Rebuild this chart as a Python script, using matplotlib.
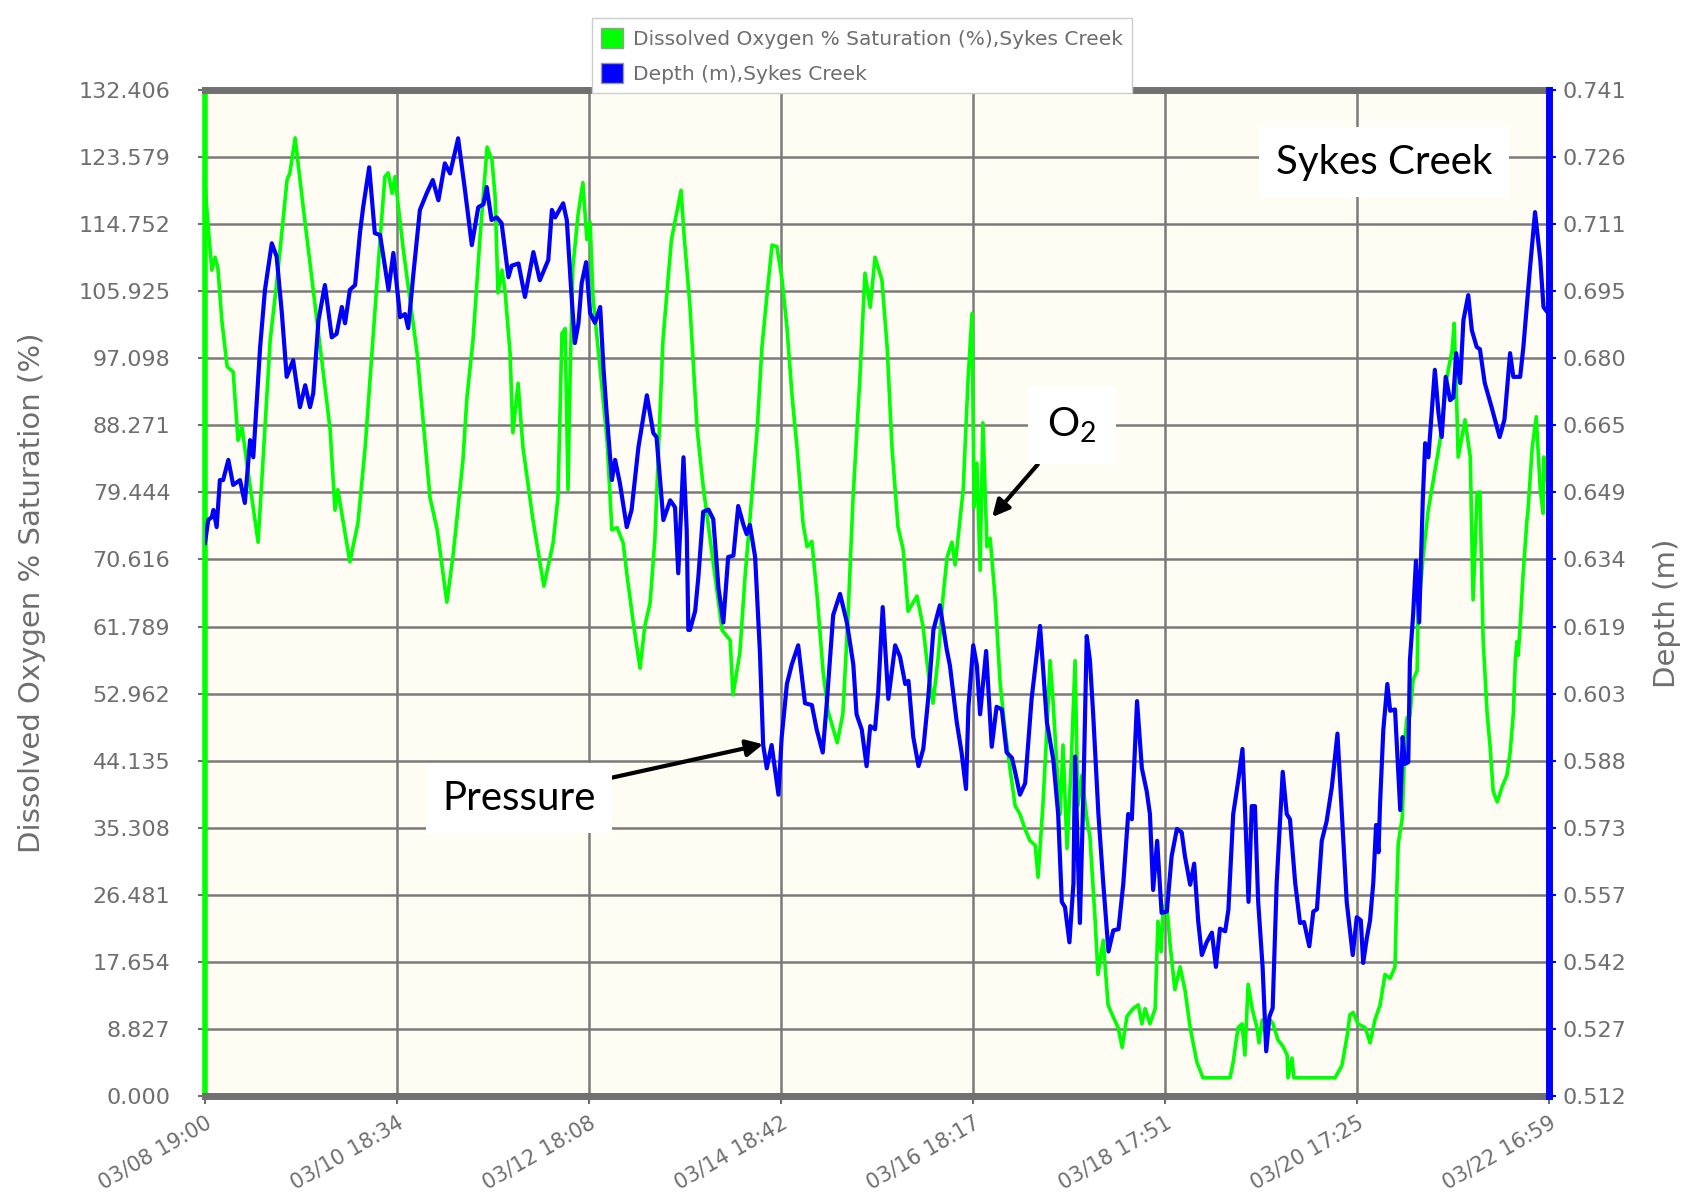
import matplotlib
matplotlib.use("Agg")
from matplotlib import pyplot as plt
from matplotlib.patches import Patch
import numpy as np

plt.rcParams["mathtext.fontset"] = "custom"
plt.rcParams["mathtext.rm"] = "Lato"

# hours since 03/08 19:00
o2_hours = [0, 0.7, 1.7, 2.5, 3.2, 4.2, 5.5, 7.0, 8.2, 9.2, 10.4, 13.2, 16.2, 17.9, 19.4,
            20.4, 21.1, 22.4, 24.4, 26.8, 29.1, 31.1, 32.3, 33.0, 36.0, 38.0, 39.8, 41.0,
            42.2, 43.5, 44.7, 45.5, 46.5, 47.2, 49.2, 52.7, 55.9, 57.7, 60.1, 61.6, 62.9,
            64.1, 65.1, 66.6, 68.3, 70.1, 71.3, 72.1, 72.8, 73.8, 74.6, 75.8, 76.5, 77.8,
            79.0, 81.5, 84.2, 86.5, 87.7, 88.7, 89.5, 90.2, 90.7, 91.4, 92.7, 93.9, 94.9,
            95.7, 96.4, 98.2, 99.9, 101.1, 102.4, 103.9, 104.9, 106.4, 108.1, 109.3, 110.6,
            111.8, 113.8, 115.9, 118.3, 119.0, 120.5, 122.3, 123.8, 128.5, 130.5, 131.2,
            132.9, 134.2, 135.4, 137.2, 138.4, 139.7, 140.9, 142.1, 143.4, 144.6, 145.9,
            147.1, 148.6, 149.6, 150.8, 152.1, 153.6, 154.8, 157.1, 158.5, 159.8, 161.0,
            162.7, 164.0, 165.3, 166.5, 168.2, 169.5, 170.7, 172.2, 173.5, 174.7, 176.9,
            178.4, 179.7, 180.9, 182.2, 183.4, 184.4, 185.6, 186.4, 187.1, 188.4, 189.6,
            190.6, 191.1, 191.8, 192.6, 193.3, 194.3, 195.1, 196.3, 197.6, 198.8, 200.0,
            201.3, 202.5, 203.8, 205.0, 206.3, 207.0, 208.2, 209.2, 210.0, 210.7, 211.7,
            212.5, 213.2, 214.2, 215.2, 216.2, 216.9, 217.9, 219.2, 219.9, 221.2, 221.9,
            223.2, 224.4, 225.6, 226.9, 227.9, 229.1, 230.6, 231.9, 232.8, 233.6, 234.8,
            236.1, 236.8, 237.6, 238.1, 239.1, 239.8, 241.0, 242.3, 243.5, 244.8, 246.5,
            248.0, 254.7, 255.5, 256.7, 257.7, 258.4, 259.2, 260.2, 261.4, 261.9, 262.7,
            263.4, 264.7, 265.4, 266.6, 267.9, 268.9, 269.1, 270.1, 270.6, 280.8, 282.5,
            283.8, 284.5, 285.3, 286.5, 288.3, 289.5, 290.7, 292.0, 293.2, 294.5, 295.7,
            296.2, 296.5, 297.5, 298.2, 298.7, 299.4, 300.2, 301.2, 301.4, 302.7, 303.9,
            306.9, 308.6, 309.9, 310.4, 311.1, 311.4, 313.1, 314.4, 315.1, 316.1, 316.8,
            317.6, 318.6, 319.3, 320.1, 321.1, 322.3, 323.5, 324.3, 325.1, 325.6, 326.0,
            326.3, 326.8, 327.5, 328.5, 328.7, 329.8, 330.8, 331.8, 332.5, 332.7, 333.5]
o2_sat = [120, 115, 108.7, 110.4, 109, 102, 96, 95.3, 86.3, 88, 83.3, 72.9, 99.5, 107.4, 115.3,
          120.6, 121.5, 126.1, 117, 106.5, 96.5, 87.7, 77.1, 79.8, 70.3, 75.4, 85.4, 94.2,
          103, 112.7, 121, 121.5, 118.8, 121, 111.7, 97.8, 78.8, 74.5, 65, 71, 77.5,
          83.7, 92, 99.5, 112.7, 124.9, 123.2, 118.3, 105.7, 108.7, 105.7, 97.8, 87.3, 93.8,
          85.4, 75.8, 67.1, 72.8, 78.8, 100.4, 101, 79.8, 94.2, 109, 116, 120.2, 112.7,
          115, 105.2, 95.6, 86.3, 74.5, 74.8, 72.8, 68.4, 62.4, 56.3, 61.9, 64.9,
          73.4, 99.5, 112.7, 119.2, 113.6, 104, 87.7, 80.2, 61.3, 60, 52.8,
          58.3, 68.4, 75.9, 87.7, 98.6, 105.7, 112, 111.8, 107.4, 101.2, 92,
          85.4, 75.4, 72.3, 73, 65.8, 55.8, 50.7, 46.5, 50.3, 63.3, 78.4,
          94.2, 108.3, 103.8, 110.4, 107.4, 98.6, 85.4, 74.9, 71.9, 63.8, 65.8,
          61.9, 55.8, 51.7, 57.8, 65.8, 70.9, 72.9, 69.9, 73.4, 79.8, 94.2,
          103, 77.5, 83.3, 69.2, 88.6, 72.3, 73.4, 65.8, 54.2, 48.2, 43.2,
          38.2, 37.1, 35.1, 33.6, 33, 28.8, 38.2, 48.2, 57.3, 52.2, 43.2,
          37.1, 46.2, 32.6, 43.2, 57.3, 38.2, 42.2, 36.2, 34.1, 23, 16,
          20.5, 12, 10.5, 9, 6.4, 10.5, 11.5, 12, 9.5, 11.5, 9.5,
          11.5, 23, 19, 25, 24.5, 20, 14, 17, 14, 9, 4.4,
          2.4, 2.4, 4.5, 9, 9.5, 5.4, 14.7, 11.5, 9, 7, 10,
          8.5, 10, 9.5, 7.4, 6.5, 5.4, 2.4, 5, 2.4, 2.4, 4,
          7.9, 10.7, 11, 9.5, 9, 7, 10, 12, 16, 15.5, 17,
          28, 33.2, 36.6, 47.3, 49.8, 50, 54.8, 56, 63.3, 71, 76.9,
          86.3, 94.6, 98.2, 101.7, 89.9, 84.1, 89, 84.1, 65.3, 79.4, 79.5,
          60, 50.3, 46.2, 40.1, 38.7, 40.7, 42.2, 45.2, 50.3, 57.3, 59.8,
          58, 61.9, 68.4, 75.9, 76.7, 85.4, 89.4, 79.8, 76.7, 84.1, 81]

depth_hours = [0, 0.8, 1.7, 2.1, 2.9, 3.7, 4.5, 5.8, 7.0, 8.7, 9.9, 11.2, 12.0, 13.7, 14.9,
               16.6, 17.8, 19.1, 20.3, 21.9, 23.6, 24.9, 26.1, 26.9, 28.2, 29.8, 31.5, 32.7,
               34.0, 34.8, 36.0, 37.3, 38.5, 39.3, 40.8, 42.2, 43.5, 45.6, 46.8, 48.5, 49.7,
               50.5, 51.8, 53.4, 55.1, 56.6, 58.0, 59.6, 60.9, 62.9, 64.6, 66.3, 67.9, 69.2,
               70.0, 71.2, 72.5, 73.7, 75.4, 76.2, 77.9, 79.5, 81.6, 83.2, 85.3, 86.2, 87.0,
               89.0, 89.9, 91.1, 91.9, 92.8, 93.6, 94.7, 95.7, 96.9, 98.2, 99.0, 99.8, 101.1,
               101.9, 103.1, 104.8, 106.0, 107.7, 109.8, 111.4, 112.2, 113.9, 115.6, 116.8,
               117.6, 118.9, 119.7, 120.1, 120.5, 121.8, 122.6, 123.8, 125.1, 126.3, 127.6,
               128.8, 130.0, 131.3, 132.5, 133.8, 134.6, 135.4, 136.7, 137.9, 138.7, 139.6,
               140.8, 142.5, 143.3, 144.6, 145.8, 147.4, 149.1, 150.8, 152.0, 153.5, 154.5,
               156.1, 157.8, 159.5, 161.1, 161.9, 163.2, 164.4, 165.3, 166.5, 167.3, 168.4,
               169.8, 171.5, 172.7, 174.0, 174.8, 176.0, 177.3, 178.5, 179.7, 181.0, 182.6,
               184.3, 185.1, 186.8, 188.0, 189.1, 189.7, 190.9, 191.8, 192.6, 194.1, 195.5,
               196.7, 198.0, 199.2, 200.5, 201.3, 202.5, 203.8, 205.4, 207.5, 209.2, 210.8,
               212.0, 212.9, 213.7, 214.8, 215.8, 216.2, 216.8, 217.4, 218.3, 219.1, 219.9,
               220.7, 222.0, 223.2, 224.5, 225.7, 227.0, 228.2, 229.4, 230.3, 231.6, 232.8,
               234.0, 234.8, 235.6, 236.6, 237.7, 239.0, 240.2, 241.5, 242.7, 243.5, 244.8,
               245.8, 246.8, 247.7, 248.9, 250.2, 251.2, 252.2, 253.5, 254.3, 255.5, 256.8,
               257.8, 258.4, 259.3, 260.1, 260.9, 261.7, 262.8, 263.7, 264.5, 265.3, 266.3,
               267.8, 268.8, 269.6, 270.9, 272.1, 273.1, 274.4, 275.4, 276.3, 277.5, 278.7,
               280.0, 281.4, 282.5, 283.7, 285.2, 286.2, 287.2, 287.8, 288.7, 289.5, 290.3,
               291.0, 291.6, 292.0, 292.8, 293.8, 294.5, 295.7, 297.0, 297.6, 298.2, 299.0,
               299.4, 300.2, 300.9, 301.7, 302.6, 303.2, 304.0, 304.8, 305.6, 306.5, 307.3,
               308.3, 309.4, 310.2, 310.9, 311.9, 312.7, 313.9, 314.8, 316.0, 316.8, 318.0,
               319.7, 321.7, 322.9, 324.3, 325.1, 326.8, 327.6, 329.2, 330.5, 331.8, 332.6,
               333.5]
depth_m = [0.6379, 0.6431, 0.6438, 0.6454, 0.6415, 0.6522, 0.6522, 0.6568, 0.6511, 0.6522,
           0.6470, 0.6613, 0.6574, 0.6825, 0.6955, 0.7061, 0.7031, 0.6902, 0.6757, 0.6795,
           0.6688, 0.6738, 0.6688, 0.6720, 0.6886, 0.6966, 0.6847, 0.6855, 0.6916, 0.6879,
           0.6955, 0.6966, 0.7084, 0.7143, 0.7234, 0.7084, 0.7080, 0.6955, 0.7039, 0.6893,
           0.6900, 0.6868, 0.6993, 0.7137, 0.7175, 0.7205, 0.7159, 0.7243, 0.7220, 0.7300,
           0.7182, 0.7057, 0.7143, 0.7150, 0.7189, 0.7114, 0.7120, 0.7107, 0.6984, 0.7010,
           0.7015, 0.6939, 0.7041, 0.6977, 0.7023, 0.7137, 0.7120, 0.7152, 0.7114, 0.6939,
           0.6834, 0.6879, 0.6970, 0.7018, 0.6902, 0.6880, 0.6916, 0.6779, 0.6675, 0.6522,
           0.6568, 0.6515, 0.6415, 0.6454, 0.6597, 0.6715, 0.6629, 0.6620, 0.6431, 0.6476,
           0.6460, 0.6310, 0.6574, 0.6408, 0.6181, 0.6181, 0.6224, 0.6302, 0.6450, 0.6455,
           0.6433, 0.6276, 0.6198, 0.6347, 0.6350, 0.6463, 0.6420, 0.6399, 0.6420, 0.6347,
           0.6128, 0.5919, 0.5866, 0.5919, 0.5806, 0.5937, 0.6058, 0.6102, 0.6146, 0.6014,
           0.6010, 0.5954, 0.5902, 0.6014, 0.6215, 0.6263, 0.6198, 0.6102, 0.5989, 0.5954,
           0.5871, 0.5962, 0.5955, 0.6042, 0.6233, 0.6024, 0.6146, 0.6120, 0.6058, 0.6065,
           0.5937, 0.5871, 0.5911, 0.6024, 0.6181, 0.6237, 0.6137, 0.6100, 0.5971, 0.5902,
           0.5819, 0.6006, 0.6146, 0.6100, 0.5989, 0.6133, 0.5915, 0.6006, 0.6000, 0.5902,
           0.5890, 0.5858, 0.5806, 0.5832, 0.6024, 0.6190, 0.5971, 0.5885, 0.5762, 0.5562,
           0.5550, 0.5470, 0.5605, 0.5893, 0.5694, 0.5514, 0.5823, 0.6167, 0.6111, 0.5989,
           0.5762, 0.5605, 0.5449, 0.5497, 0.5500, 0.5605, 0.5762, 0.5750, 0.6019, 0.5866,
           0.5814, 0.5762, 0.5589, 0.5701, 0.5537, 0.5540, 0.5666, 0.5728, 0.5720, 0.5666,
           0.5601, 0.5649, 0.5518, 0.5441, 0.5470, 0.5492, 0.5414, 0.5501, 0.5495, 0.5544,
           0.5762, 0.5841, 0.5910, 0.5780, 0.5562, 0.5780, 0.5780, 0.5562, 0.5414, 0.5222,
           0.5301, 0.5320, 0.5605, 0.5858, 0.5762, 0.5750, 0.5605, 0.5514, 0.5516, 0.5461,
           0.5540, 0.5545, 0.5701, 0.5745, 0.5823, 0.5945, 0.5762, 0.5562, 0.5441, 0.5527,
           0.5520, 0.5423, 0.5480, 0.5520, 0.5605, 0.5737, 0.5675, 0.5789, 0.5954, 0.6058,
           0.5997, 0.6000, 0.5771, 0.5937, 0.5876, 0.5880, 0.6111, 0.6215, 0.6338, 0.6198,
           0.6476, 0.6606, 0.6574, 0.6675, 0.6773, 0.6675, 0.6620, 0.6757, 0.6704, 0.6710,
           0.6811, 0.6743, 0.6886, 0.6943, 0.6863, 0.6825, 0.6820, 0.6743, 0.6688, 0.6620,
           0.6660, 0.6811, 0.6757, 0.6757, 0.6825, 0.7000, 0.7132, 0.7023, 0.6916, 0.6905]

x_labels = ["03/08 19:00", "03/10 18:34", "03/12 18:08", "03/14 18:42",
            "03/16 18:17", "03/18 17:51", "03/20 17:25", "03/22 16:59"]
o2_labels = ["0.000", "8.827", "17.654", "26.481", "35.308", "44.135", "52.962", "61.789",
             "70.616", "79.444", "88.271", "97.098", "105.925", "114.752", "123.579", "132.406"]
depth_labels = ["0.512", "0.527", "0.542", "0.557", "0.573", "0.588", "0.603", "0.619",
                "0.634", "0.649", "0.665", "0.680", "0.695", "0.711", "0.726", "0.741"]
total_hours = 333.98
o2_max = 132.406
depth_min, depth_max = 0.512, 0.741

GRAY = "#6e6e6e"
GREEN = "#00ff00"
BLUE = "#0000ff"

fig = plt.figure(figsize=(16.9, 12.03), dpi=100)
ax = fig.add_axes([0.1213, 0.0889, 0.7953, 0.8363])
ax.set_facecolor("#fffcf4")
ax2 = ax.twinx()

ax.plot(o2_hours, o2_sat, color=GREEN, lw=2.6, solid_joinstyle="round")
ax2.plot(depth_hours, depth_m, color=BLUE, lw=3.0, solid_joinstyle="round")

ax.set_xlim(0, total_hours)
ax.set_ylim(0, o2_max)
ax2.set_ylim(depth_min, depth_max)

ax.set_xticks(np.linspace(0, total_hours, len(x_labels)))
ax.set_xticklabels(x_labels, rotation=30, ha="right", va="top",
                   rotation_mode="anchor", color=GRAY, fontsize=15)
ax.set_yticks(np.linspace(0, o2_max, len(o2_labels)))
ax.set_yticklabels(o2_labels)
ax2.set_yticks(np.linspace(depth_min, depth_max, len(depth_labels)))
ax2.set_yticklabels(depth_labels)

ax.grid(True, color="#7a7a7a", lw=1.8)
ax.tick_params(axis="y", colors=GRAY, labelsize=16, length=5, width=1.5, pad=20)
ax.tick_params(axis="x", colors=GRAY, length=6, width=1.5, pad=6)
ax2.tick_params(axis="y", colors=BLUE, labelcolor=GRAY, labelsize=16, length=5,
                width=1.5, pad=5)

for s in ["left", "top", "bottom"]:
    ax2.spines[s].set_visible(False)
ax.spines["right"].set_visible(False)
ax.spines["left"].set_color(GREEN)
ax.spines["left"].set_linewidth(4)
ax2.spines["right"].set_color(BLUE)
ax2.spines["right"].set_linewidth(5)
ax.spines["top"].set_color("#707070")
ax.spines["top"].set_linewidth(5)
ax.spines["bottom"].set_color("#707070")
ax.spines["bottom"].set_linewidth(5)

ax.set_ylabel("Dissolved Oxygen % Saturation (%)", fontsize=21, color=GRAY)
ax.yaxis.set_label_coords(-0.118, 0.5)
ax2.set_ylabel("Depth (m)", fontsize=21, color=GRAY, rotation=90)
ax2.yaxis.set_label_coords(1.077, 0.48)

handles = [Patch(facecolor=GREEN, edgecolor="#999999"),
           Patch(facecolor=BLUE, edgecolor="#999999")]
leg = fig.legend(handles, ["Dissolved Oxygen % Saturation (%),Sykes Creek",
                           "Depth (m),Sykes Creek"],
                 loc="upper center", bbox_to_anchor=(0.51, 0.993), fontsize=14.5,
                 fancybox=False, edgecolor="#cccccc", handlelength=1.1,
                 handleheight=1.2, borderpad=0.45, labelspacing=0.7,
                 handletextpad=0.5, framealpha=1)
for t in leg.get_texts():
    t.set_color(GRAY)

# callouts
box = dict(facecolor="white", edgecolor="none", pad=12)
ann_font = ["Lato", "DejaVu Sans"]
ax2.text(293, 122.9, "Sykes Creek", transform=ax.transData, fontsize=29,
         family=ann_font, ha="center", va="center", bbox=box, zorder=5)
ax2.annotate(r"$\mathrm{O}_\mathrm{2}$", xy=(195.6, 76.2), xycoords=ax.transData,
             xytext=(215.4, 88.3), textcoords=ax.transData, fontsize=29,
             ha="center", va="center", bbox=dict(facecolor="white", edgecolor="none", pad=14),
             zorder=5,
             arrowprops=dict(arrowstyle="-|>", color="black", lw=3,
                             mutation_scale=25, shrinkA=0, shrinkB=0))
ax2.annotate("Pressure", xy=(138.7, 46.3), xycoords=ax.transData,
             xytext=(78.0, 39.2), textcoords=ax.transData, fontsize=29,
             family=ann_font, ha="center", va="center", bbox=box, zorder=5,
             arrowprops=dict(arrowstyle="-|>", color="black", lw=3,
                             mutation_scale=25, shrinkA=0, shrinkB=0))

fig.savefig("out.png", dpi=100)
